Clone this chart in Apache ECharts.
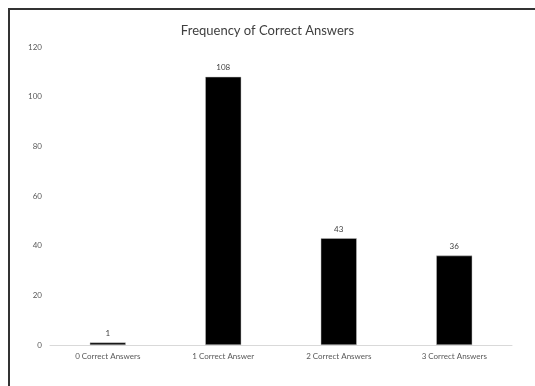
<!DOCTYPE html>
<html>
<head>
<meta charset="utf-8">
<title>Frequency of Correct Answers</title>
<script src="https://cdn.jsdelivr.net/npm/echarts@6/dist/echarts.min.js"></script>
<style>
	html, body { margin: 0; padding: 0; background: #fff; }
	#wrap { position: relative; width: 535px; height: 386px; }
	#chart { width: 535px; height: 386px; }
	#frame {
		position: absolute; left: 8px; top: 8px; right: 0; bottom: 0;
		border-left: 2px solid #333; border-top: 2px solid #333;
		pointer-events: none;
	}
</style>
</head>
<body>
<div id="wrap">
	<div id="chart"></div>
	<div id="frame"></div>
</div>
<script>
	var categories = ['0 Correct Answers', '1 Correct Answer', '2 Correct Answers', '3 Correct Answers'];
	var counts = [1, 108, 43, 36];
	var yTicks = [0, 20, 40, 60, 80, 100, 120];

	var chart = echarts.init(document.getElementById('chart'));
	var chartOption = {
		animation: false,
		title: {
			text: 'Frequency of Correct Answers',
			left: 'center',
			top: 19,
			textStyle: {
				fontFamily: 'Lato',
				fontSize: 13,
				fontWeight: 'normal',
				color: '#404040'
			}
		},
		grid: {
			top: 47,
			left: 50,
			right: 23,
			bottom: 41
		},
		xAxis: {
			type: 'category',
			data: categories,
			axisLine: {
				lineStyle: { color: '#d9d9d9', width: 1 }
			},
			axisTick: { show: false },
			axisLabel: {
				fontFamily: 'Lato',
				fontSize: 8,
				color: '#595959',
				margin: 7
			}
		},
		yAxis: {
			type: 'value',
			min: yTicks[0],
			max: yTicks[yTicks.length - 1],
			interval: 20,
			axisLine: { show: false },
			axisTick: { show: false },
			splitLine: { show: false },
			axisLabel: {
				fontFamily: 'Lato',
				fontSize: 8,
				color: '#595959',
				margin: 8
			}
		},
		series: [{
			type: 'bar',
			data: counts,
			barWidth: 36,
			itemStyle: {
				color: '#000',
				borderColor: '#bfbfbf',
				borderWidth: 0.5
			},
			label: {
				show: true,
				position: 'top',
				distance: 5,
				fontFamily: 'Lato',
				fontSize: 8,
				color: '#404040'
			}
		}]
	};
	chart.setOption(chartOption);
</script>
</body>
</html>
